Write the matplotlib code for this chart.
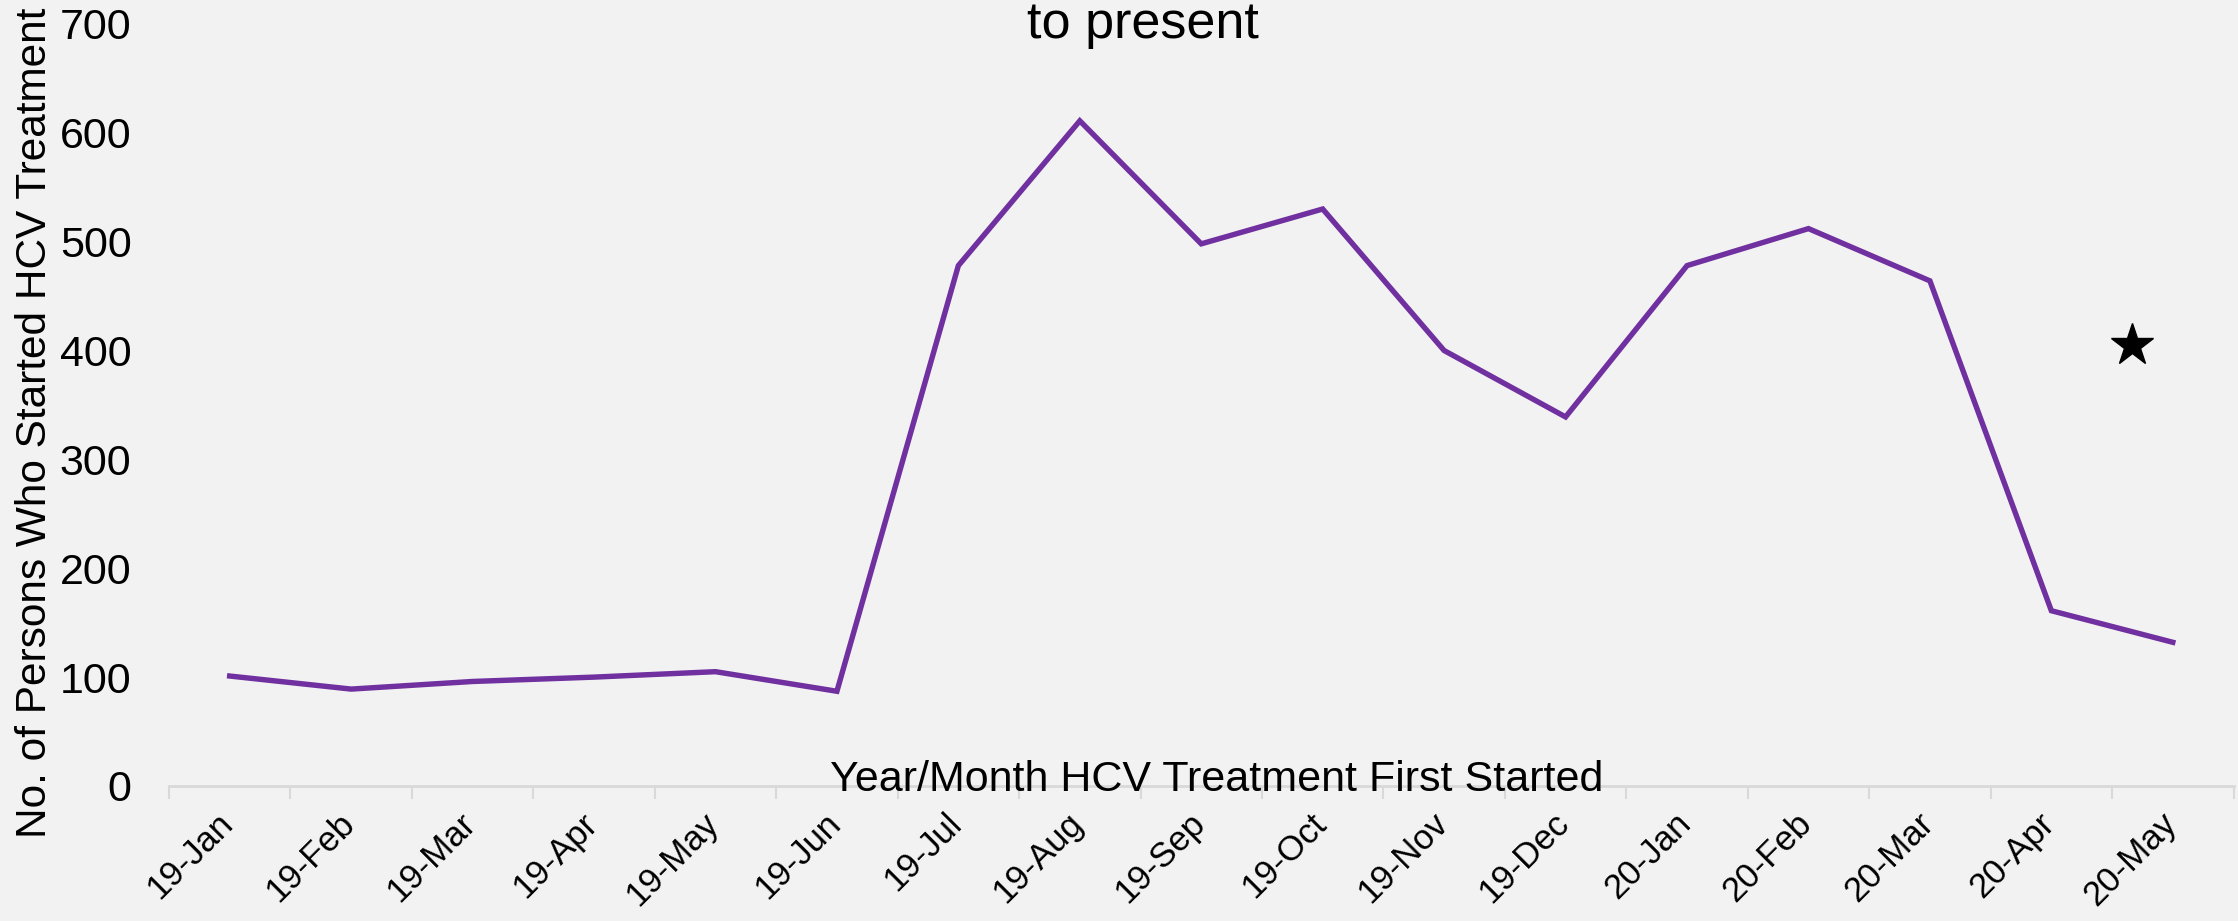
"""HCV treatment starts by month, line chart."""

import matplotlib

matplotlib.use("Agg")
import matplotlib.pyplot as plt
from matplotlib.transforms import ScaledTranslation
import numpy as np

MONTHS = [
    "19-Jan", "19-Feb", "19-Mar", "19-Apr", "19-May", "19-Jun", "19-Jul",
    "19-Aug", "19-Sep", "19-Oct", "19-Nov", "19-Dec", "20-Jan", "20-Feb",
    "20-Mar", "20-Apr", "20-May",
]
PERSONS_STARTED = [101, 89, 96, 100, 105, 87, 478, 611, 498, 530, 400, 339,
                   478, 512, 464, 161, 132]
STAR_POSITION = 15.66  # in category units, between 20-Apr and 20-May
STAR_VALUE = 405
Y_TICKS = [0, 100, 200, 300, 400, 500, 600, 700]

BG = "#f2f2f2"
LINE_COLOR = "#7030a0"
AXIS_GREY = "#d9d9d9"

plt.rcParams["font.family"] = ["Liberation Sans", "DejaVu Sans"]

fig = plt.figure(figsize=(22.38, 9.21), dpi=100, facecolor=BG)
ax = fig.add_axes([0.0755, 0.1466, 0.9225, 0.8274], facecolor=BG)

x = np.arange(len(MONTHS)) + 0.5
ax.plot(x, PERSONS_STARTED, color=LINE_COLOR, linewidth=3.9, solid_joinstyle="miter")
ax.plot([STAR_POSITION + 0.5], [STAR_VALUE], marker="*", color="black",
        markersize=32, linestyle="none")

ax.set_xlim(0, len(MONTHS))
ax.set_ylim(0, 700)
ax.set_yticks(Y_TICKS)
ax.tick_params(axis="y", length=0, pad=27, labelsize=31)

ax.set_xticks(x)
ax.set_xticklabels(MONTHS, rotation=45, ha="right", fontsize=25)
ax.set_xticks(np.arange(len(MONTHS) + 1), minor=True)
ax.tick_params(axis="x", which="major", length=0, pad=15)
ax.tick_params(axis="x", which="minor", length=9, width=1.5, color=AXIS_GREY)
offset = ScaledTranslation(0.1, 0, fig.dpi_scale_trans)
for label in ax.get_xticklabels():
    label.set_transform(label.get_transform() + offset)

for side in ["top", "right", "left"]:
    ax.spines[side].set_visible(False)
ax.spines["bottom"].set_color(AXIS_GREY)
ax.spines["bottom"].set_linewidth(2)

ax.text(0.5075, 0.008, "Year/Month HCV Treatment First Started",
        transform=ax.transAxes, ha="center", va="center", fontsize=31)
fig.text(0.0155, 0.541, "No. of Persons Who Started HCV Treatment",
         rotation=90, ha="center", va="center", fontsize=30.5)
fig.text(0.5105, 0.9587, "to present", ha="center", va="baseline", fontsize=37.5)

fig.savefig("out.png", dpi=100, facecolor=BG)
